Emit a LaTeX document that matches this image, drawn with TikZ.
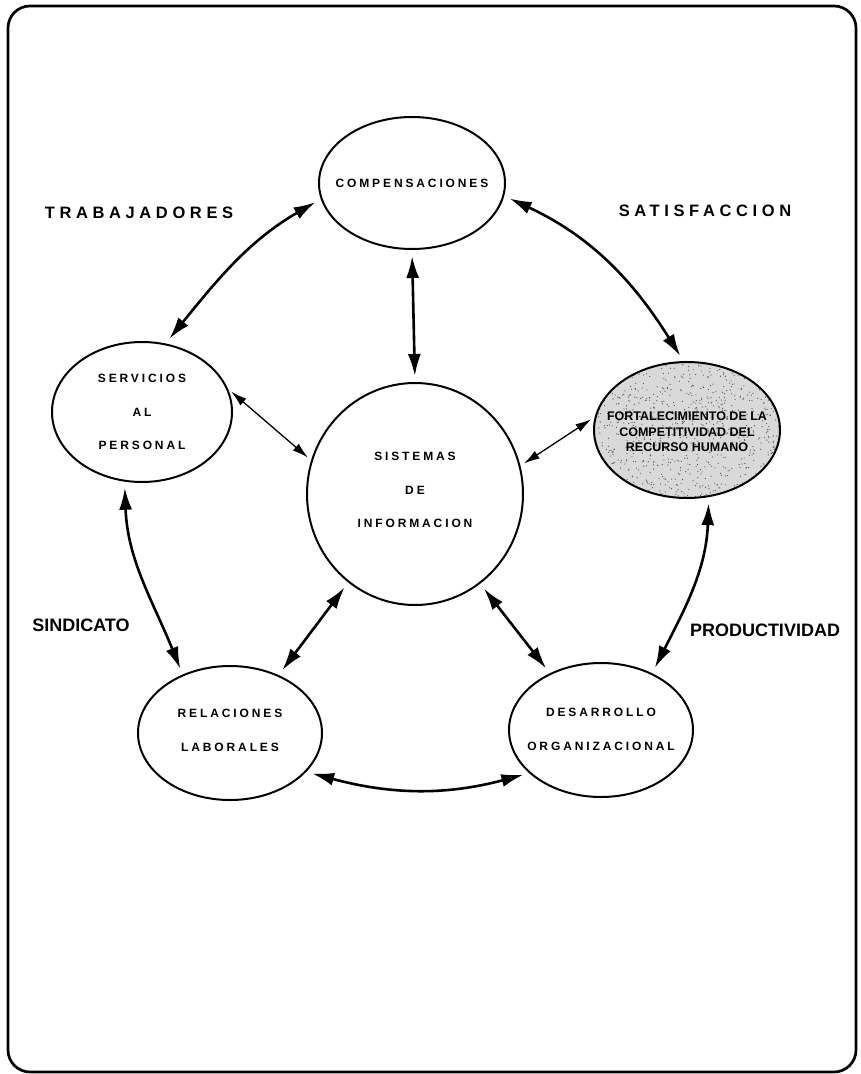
\documentclass[tikz,border=0pt]{standalone}
\usepackage{fontspec}
\setmainfont{Liberation Sans}
\newfontfamily\spacedfont[LetterSpace=28]{Liberation Sans}
\newfontfamily\ellfont[LetterSpace=24]{Liberation Sans}
\usetikzlibrary{arrows.meta,shapes.geometric}
\begin{document}
\begin{tikzpicture}[x=1pt,y=1pt,
  ell/.style={draw, line width=2pt, ellipse, inner sep=0pt},
  elltext/.style={font=\ellfont\bfseries\fontsize{12}{33.5}\selectfont, align=center, inner sep=0pt},
  biglabel/.style={font=\spacedfont\bfseries\fontsize{16.5}{20}\selectfont, inner sep=0pt},
  boldlabel/.style={font=\bfseries\fontsize{18}{20}\selectfont, inner sep=0pt},
  thk/.style={line width=2.6pt, {Latex[length=22pt,width=13pt]}-{Latex[length=22pt,width=13pt]}, shorten <=6pt, shorten >=6pt},
  thn/.style={line width=1.3pt, {Latex[length=16pt,width=9pt]}-{Latex[length=16pt,width=9pt]}, shorten <=4pt, shorten >=4pt},
]
\useasboundingbox (0,0) rectangle (860,-1074);
\draw[line width=2.7pt, rounded corners=22pt] (8,-6) rectangle (856,-1072);

% shaded ellipse background
\fill[black!15] (687,-430) ellipse [x radius=93, y radius=68];
\begin{scope}
  \clip (687,-430) ellipse [x radius=93, y radius=68];
  \pgfmathsetseed{7}
  \foreach \i in {1,...,900}{\fill[black!70] ({687+93*rand},{-430+68*rand}) circle (0.6pt);}
\end{scope}

\node[ell, minimum width=186pt, minimum height=132pt] (comp) at (412,-183) {};
\node[ell, minimum width=180pt, minimum height=140pt] (serv) at (142,-412) {};
\node[ell, minimum width=216pt, minimum height=222pt] (sis) at (415,-494) {};
\node[ell, minimum width=186pt, minimum height=136pt] (fort) at (687,-430) {};
\node[ell, minimum width=184pt, minimum height=134pt] (rel) at (230,-733) {};
\node[ell, minimum width=184pt, minimum height=134pt] (des) at (601,-730) {};

\node[elltext] (compt) at (412,-183) {COMPENSACIONES};
\node[elltext] (servt) at (142,-412) {SERVICIOS\\AL\\PERSONAL};
\node[elltext] (sist) at (415,-490) {SISTEMAS\\DE\\INFORMACION};
\node[elltext] (relt) at (230,-730.5) {RELACIONES\\LABORALES};
\node[elltext] (dest) at (601,-729.5) {DESARROLLO\\ORGANIZACIONAL};
\node[font=\bfseries\fontsize{12.5}{15.5}\selectfont, align=center, inner sep=0pt] (fortt) at (687,-432) {FORTALECIMIENTO DE LA\\COMPETITIVIDAD DEL\\RECURSO HUMANO};

\node[biglabel] (trab) at (139,-213) {TRABAJADORES};
\node[biglabel] (satis) at (705,-211) {SATISFACCION};
\node[boldlabel] (sind) at (81,-625) {SINDICATO};
\node[boldlabel] (prod) at (765,-630) {PRODUCTIVIDAD};

\draw[thk] (comp.190) to[out=210,in=51] (serv.71);
\draw[thk] (comp.-8) to[out=-25,in=122] (fort.93);
\draw[thk] (comp.south) -- (sis.north);
\draw[thn] (serv.15) -- (sis.162);
\draw[thn] (sis.15) -- (fort.172);
\draw[thk] (serv.-104) to[out=-88,in=112] (rel.129);
\draw[thk] (sis.233) -- (rel.50);
\draw[thk] (sis.-54) -- (des.132);
\draw[thk] (fort.-72) to[out=-92,in=63] (des.48);
\draw[thk] (rel.-27) to[out=-15,in=195] (des.211);
\end{tikzpicture}
\end{document}
